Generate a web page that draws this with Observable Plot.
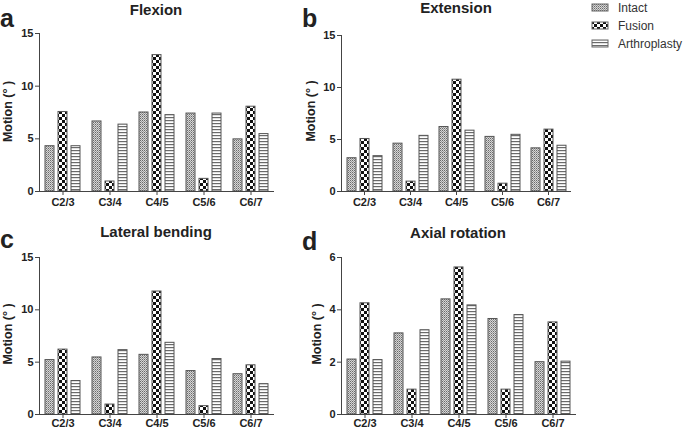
<!DOCTYPE html>
<html><head><meta charset="utf-8">
<script src="https://cdn.jsdelivr.net/npm/d3@7"></script>
<script src="https://cdn.jsdelivr.net/npm/@observablehq/plot@0.6"></script>
<style>
body{margin:0;background:#fff;}
#root{position:relative;width:685px;height:431px;overflow:hidden;font-family:"Liberation Sans",Arial,sans-serif;color:#222;background:#fff;}
.panel{position:absolute;}
#overlay{position:absolute;left:0;top:0;pointer-events:none;}
</style></head>
<body><div id="root">
<svg width="0" height="0" style="position:absolute"><defs>
<pattern id="pInt" width="2" height="2" patternUnits="userSpaceOnUse"><rect width="2" height="2" fill="#d6d6d6"/><rect width="1" height="1" fill="#6a6a6a"/><rect x="1" y="1" width="1" height="1" fill="#9a9a9a"/></pattern>
<pattern id="pFus" width="6" height="6" patternUnits="userSpaceOnUse"><rect width="6" height="6" fill="#fff"/><rect width="3" height="3" fill="#111"/><rect x="3" y="3" width="3" height="3" fill="#111"/></pattern>
<pattern id="pArt" width="3" height="3" patternUnits="userSpaceOnUse"><rect width="3" height="3" fill="#fff"/><rect width="3" height="1.2" fill="#6a6a6a"/></pattern>
</defs></svg>
<div id="pa" class="panel" style="left:0;top:0"></div>
<div id="pb" class="panel" style="left:290px;top:0"></div>
<div id="pc" class="panel" style="left:0;top:215px"></div>
<div id="pd" class="panel" style="left:290px;top:215px"></div>
<svg id="overlay" width="685" height="431" font-family="Liberation Sans, Arial, sans-serif" fill="#222">
  <g font-weight="bold" font-size="15" text-anchor="middle">
    <text x="156" y="14.5">Flexion</text>
    <text x="456" y="12.5">Extension</text>
    <text x="156" y="236.5">Lateral bending</text>
    <text x="458" y="238">Axial rotation</text>
  </g>
  <g font-weight="bold" font-size="25">
    <text x="0" y="27">a</text>
    <text x="302" y="27">b</text>
    <text x="0" y="248">c</text>
    <text x="302" y="250">d</text>
  </g>
  <g font-weight="bold" font-size="12.5" text-anchor="middle">
    <text transform="translate(12,111.5) rotate(-90)">Motion (° )</text>
    <text transform="translate(315,111) rotate(-90)">Motion (° )</text>
    <text transform="translate(12,334) rotate(-90)">Motion (° )</text>
    <text transform="translate(321,334) rotate(-90)">Motion (° )</text>
  </g>
  <g id="legend" font-size="12" fill="#333"></g>
</svg>
</div>
<script>
const levels = ["C2/3", "C3/4", "C4/5", "C5/6", "C6/7"];
const series = ["Intact", "Fusion", "Arthroplasty"];
const patterns = ["url(#pInt)", "url(#pFus)", "url(#pArt)"];

// Flexion (a)
const flexionIntact = [4.3, 6.65, 7.5, 7.4, 4.95];
const flexionFusion = [7.55, 0.95, 12.95, 1.2, 8.05];
const flexionArthro = [4.3, 6.35, 7.25, 7.4, 5.45];
// Extension (b)
const extensionIntact = [3.2, 4.6, 6.2, 5.25, 4.15];
const extensionFusion = [5.05, 0.95, 10.75, 0.75, 5.95];
const extensionArthro = [3.4, 5.35, 5.85, 5.45, 4.4];
// Lateral bending (c)
const lateralIntact = [5.2, 5.45, 5.7, 4.15, 3.85];
const lateralFusion = [6.2, 0.95, 11.75, 0.8, 4.7];
const lateralArthro = [3.2, 6.15, 6.85, 5.3, 2.9];
// Axial rotation (d)
const axialIntact = [2.1, 3.1, 4.4, 3.65, 2.0];
const axialFusion = [4.25, 0.95, 5.62, 0.95, 3.52];
const axialArthro = [2.08, 3.22, 4.17, 3.8, 2.02];

const ticks15 = [0, 5, 10, 15];
const ticks6 = [0, 2, 4, 6];

function makeData(vals) {
  const out = [];
  levels.forEach((lv, i) => series.forEach((s, j) => out.push({level: lv, series: s, value: vals[j][i]})));
  return out;
}

function panel(id, cfg) {
  const data = makeData(cfg.values);
  const chart = Plot.plot({
    width: cfg.width, height: cfg.height,
    marginLeft: cfg.ml, marginRight: cfg.mr, marginTop: cfg.mt, marginBottom: cfg.mb,
    style: {fontFamily: "Liberation Sans, Arial, sans-serif", fontSize: "11px", fontWeight: "bold", color: "#222", background: "transparent", overflow: "visible"},
    fx: {domain: levels, padding: 0, label: null, axis: null},
    x: {domain: series, axis: null, paddingInner: 0.33, paddingOuter: 0.43},
    y: {domain: cfg.domain, axis: null},
    color: {domain: series, range: patterns},
    marks: [
      Plot.barY(data, {fx: "level", x: "series", y: "value", fill: "series", stroke: "#555", strokeWidth: 1}),
      Plot.ruleY([0], {stroke: "#444"}),
      Plot.frame({anchor: "left", facetAnchor: "left", stroke: "#444"}),
      Plot.axisFx({anchor: "bottom", tickSize: 4, tickPadding: cfg.tp, label: null, stroke: "#444"}),
      Plot.axisY({ticks: cfg.ticks, tickFormat: "d", tickSize: 4, tickPadding: 2, label: null, stroke: "#444"})
    ]
  });
  document.getElementById(id).appendChild(chart);
}

panel("pa", {values: [flexionIntact, flexionFusion, flexionArthro], domain: [0, 15], ticks: ticks15,
  width: 290, height: 215, ml: 37, mr: 15, mt: 33, mb: 24, tp: 3});
panel("pb", {values: [extensionIntact, extensionFusion, extensionArthro], domain: [0, 15], ticks: ticks15,
  width: 300, height: 215, ml: 49, mr: 17, mt: 35, mb: 24, tp: 3});
panel("pc", {values: [lateralIntact, lateralFusion, lateralArthro], domain: [0, 15], ticks: ticks15,
  width: 290, height: 216, ml: 37, mr: 15, mt: 42, mb: 17, tp: 1});
panel("pd", {values: [axialIntact, axialFusion, axialArthro], domain: [0, 6], ticks: ticks6,
  width: 300, height: 216, ml: 49, mr: 13, mt: 42, mb: 17, tp: 1});

// legend
const lg = document.getElementById("legend");
const NS = "http://www.w3.org/2000/svg";
series.forEach((s, i) => {
  const r = document.createElementNS(NS, "rect");
  r.setAttribute("x", 592); r.setAttribute("y", 4 + i * 18);
  r.setAttribute("width", 16); r.setAttribute("height", 7);
  r.setAttribute("fill", patterns[i]); r.setAttribute("stroke", "#666");
  lg.appendChild(r);
  const t = document.createElementNS(NS, "text");
  t.setAttribute("x", 618); t.setAttribute("y", 12 + i * 18);
  t.textContent = s;
  lg.appendChild(t);
});
</script>
</body></html>
